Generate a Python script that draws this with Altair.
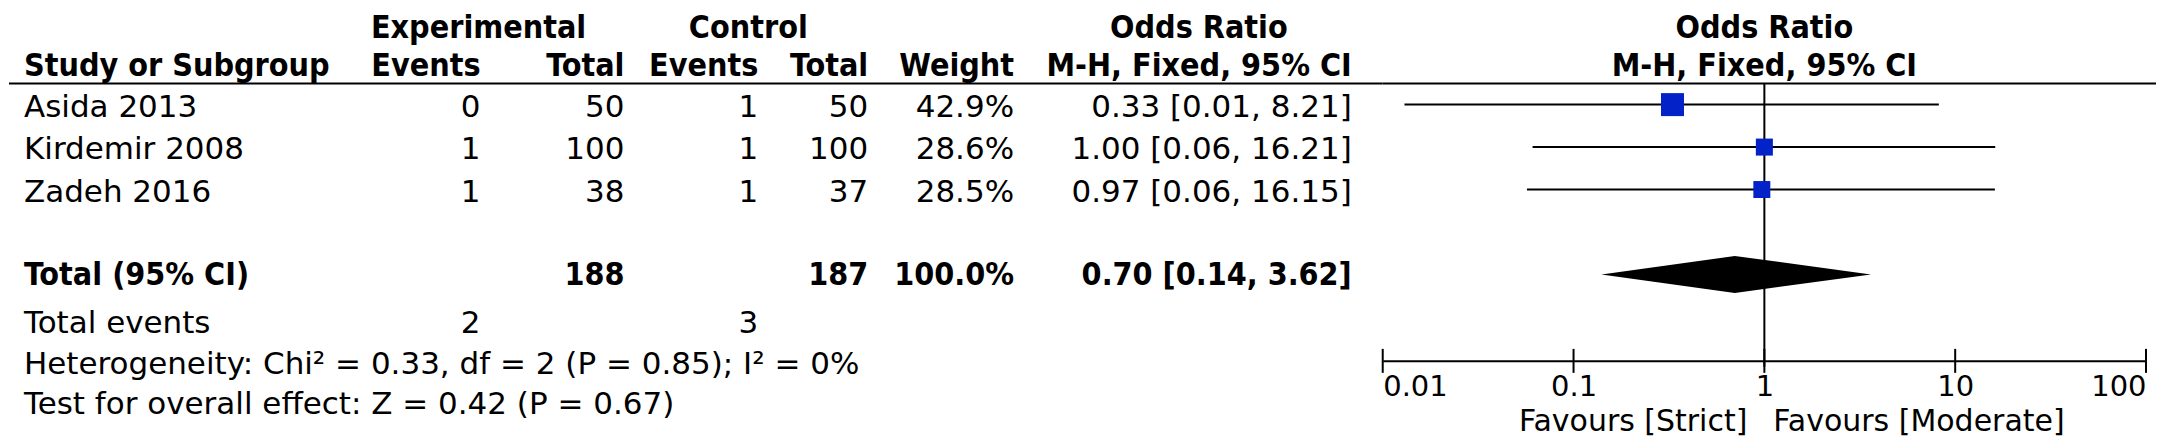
import altair as alt
import pandas as pd

# ---------------- data ----------------
studies = ["Asida 2013", "Kirdemir 2008", "Zadeh 2016"]
exp_events = [0, 1, 1]
exp_total = [50, 100, 38]
ctrl_events = [1, 1, 1]
ctrl_total = [50, 100, 37]
weights = [42.9, 28.6, 28.5]
odds_ratio = [0.33, 1.00, 0.97]
ci_low = [0.013, 0.061, 0.057]      # as drawn
ci_high = [8.21, 16.21, 16.15]
or_text = ["0.33 [0.01, 8.21]", "1.00 [0.06, 16.21]", "0.97 [0.06, 16.15]"]

total_label = "Total (95% CI)"
total_exp = 188
total_ctrl = 187
total_weight = "100.0%"
total_or = 0.70
total_low = 0.14
total_high = 3.62
total_or_text = "0.70 [0.14, 3.62]"

events_label = "Total events"
events_exp = 2
events_ctrl = 3
heterogeneity = "Heterogeneity: Chi² = 0.33, df = 2 (P = 0.85); I² = 0%"
overall_effect = "Test for overall effect: Z = 0.42 (P = 0.67)"

group_headers = ["Experimental", "Control", "Odds Ratio"]
col_headers = ["Study or Subgroup", "Events", "Total", "Events", "Total", "Weight", "M-H, Fixed, 95% CI"]
plot_headers = ["Odds Ratio", "M-H, Fixed, 95% CI"]
axis_ticks = [0.01, 0.1, 1, 10, 100]
null_value = 1
favours = ["Favours [Strict]", "Favours [Moderate]"]

# ---------------- layout ----------------
WL, WF = 1375, 764
ROW0, ROWH = 54.0, 42.5
H = 353
R_TOP = -ROW0 / ROWH
R_BOT = (H - ROW0) / ROWH
BLUE = "#0323C8"
REG_FONT = "DejaVu Sans"
BOLD_FONT = "DejaVu Sans Condensed"

yscale = alt.Scale(domain=[R_TOP, R_BOT], reverse=True, zero=False, nice=False)
xscale = alt.Scale(type="log", domain=[0.01, 100], nice=False)

COLS = {
    "name": (15, "left"), "ee": (472, "right"), "et": (616, "right"),
    "ce": (750, "right"), "ct": (860, "right"), "w": (1006, "right"),
    "or": (1344, "right"), "gexp": (470, "center"), "gctrl": (740, "center"),
    "gor": (1191, "center"),
}
STYLES = {
    "h1": dict(bold=True, dy=8),
    "h2": dict(bold=True, dy=4),
    "body": dict(bold=False, dy=3),
    "total": dict(bold=True, dy=1),
    "events": dict(bold=False, dy=7),
    "het": dict(bold=False, dy=6),
    "test": dict(bold=False, dy=3),
}

cells = []
def add(row, col, text, style):
    cells.append(dict(row=row, col=col, text=str(text), style=style))

for col, t in zip(["gexp", "gctrl", "gor"], group_headers):
    add(-1, col, t, "h1")
for col, t in zip(["name", "ee", "et", "ce", "ct", "w", "or"], col_headers):
    add(0, col, t, "h2")
for i in range(len(studies)):
    r = i + 1
    add(r, "name", studies[i], "body")
    add(r, "ee", exp_events[i], "body")
    add(r, "et", exp_total[i], "body")
    add(r, "ce", ctrl_events[i], "body")
    add(r, "ct", ctrl_total[i], "body")
    add(r, "w", f"{weights[i]:.1f}%", "body")
    add(r, "or", or_text[i], "body")
TOTAL_ROW = 5
add(TOTAL_ROW, "name", total_label, "total")
add(TOTAL_ROW, "et", total_exp, "total")
add(TOTAL_ROW, "ct", total_ctrl, "total")
add(TOTAL_ROW, "w", total_weight, "total")
add(TOTAL_ROW, "or", total_or_text, "total")
add(6, "name", events_label, "events")
add(6, "ee", events_exp, "events")
add(6, "ce", events_ctrl, "events")
add(7, "name", heterogeneity, "het")
add(8, "name", overall_effect, "test")
cells_df = pd.DataFrame(cells)


def text_props(style):
    s = STYLES[style]
    if s["bold"]:
        return dict(font=BOLD_FONT, fontSize=32, fontWeight="bold", dy=s["dy"])
    return dict(font=REG_FONT, fontSize=31, fontWeight="normal", dy=s["dy"])


dummy = pd.DataFrame({"k": [0]})
RULE_Y = ROW0 + 0.5 * ROWH

left_layers = [
    alt.Chart(dummy).mark_rule(color="black", strokeWidth=2).encode(
        x=alt.value(0), x2=alt.value(WL), y=alt.value(RULE_Y))
]
for (col, style), sub in cells_df.groupby(["col", "style"]):
    x, align = COLS[col]
    left_layers.append(
        alt.Chart(sub).mark_text(align=align, baseline="middle", color="black",
                                 **text_props(style)).encode(
            x=alt.value(x),
            y=alt.Y("row:Q", scale=yscale, axis=None),
            text="text:N",
        )
    )
left = alt.layer(*left_layers).properties(width=WL, height=H)

# ---------------- forest plot ----------------
xaxis = alt.Axis(values=axis_ticks, format="~g", labelFlush=True, ticks=False, tickSize=0,
                 domain=True, domainColor="black", domainWidth=2, labelFont=REG_FONT,
                 labelFontSize=29, labelColor="black", labelPadding=12, grid=False,
                 title=None, labelOverlap=False)

sdf = pd.DataFrame({"row": [1, 2, 3], "or": odds_ratio, "lo": ci_low, "hi": ci_high, "weight": weights})

rule_top = alt.Chart(dummy).mark_rule(color="black", strokeWidth=2).encode(
    x=alt.value(0), x2=alt.value(WF + 10), y=alt.value(RULE_Y))

vline = alt.Chart(pd.DataFrame({"x": [null_value]})).mark_rule(color="black", strokeWidth=2).encode(
    x=alt.X("x:Q", scale=xscale, axis=xaxis),
    y=alt.value(RULE_Y), y2=alt.value(H + 6))

ci = alt.Chart(sdf).mark_rule(color="black", strokeWidth=2).encode(
    x=alt.X("lo:Q", scale=xscale, axis=xaxis), x2="hi:Q",
    y=alt.Y("row:Q", scale=yscale, axis=None))

squares = alt.Chart(sdf).mark_square(color=BLUE, opacity=1, filled=True).encode(
    x=alt.X("or:Q", scale=xscale, axis=xaxis),
    y=alt.Y("row:Q", scale=yscale, axis=None),
    size=alt.Size("weight:Q", scale=alt.Scale(domain=[min(weights), max(weights)], range=[17 * 17, 23 * 23]),
                  legend=None))

HALF = 18.5 / ROWH
ddf = pd.DataFrame({"x": [total_low, total_or, total_high], "part": ["lo", "est", "hi"]})
diamond = alt.Chart(ddf).transform_calculate(
    yt=f"{TOTAL_ROW} - (datum.part == 'est' ? {HALF} : 0)",
    yb=f"{TOTAL_ROW} + (datum.part == 'est' ? {HALF} : 0)",
).mark_area(color="black", opacity=1, interpolate="linear").encode(
    x=alt.X("x:Q", scale=xscale, axis=xaxis),
    y=alt.Y("yt:Q", scale=yscale, axis=None), y2="yb:Q")

ticks = alt.Chart(pd.DataFrame({"t": axis_ticks})).mark_rule(color="black", strokeWidth=2).encode(
    x=alt.X("t:Q", scale=xscale, axis=xaxis), y=alt.value(H - 12), y2=alt.value(H + 12))

hdf = pd.DataFrame({"text": plot_headers, "row": [-1, 0], "x": [null_value, null_value]})
head1 = alt.Chart(hdf[hdf.row == -1]).mark_text(align="center", baseline="middle", color="black",
                                              **text_props("h1")).encode(
    x=alt.X("x:Q", scale=xscale, axis=xaxis), y=alt.Y("row:Q", scale=yscale, axis=None), text="text:N")
head2 = alt.Chart(hdf[hdf.row == 0]).mark_text(align="center", baseline="middle", color="black",
                                             **text_props("h2")).encode(
    x=alt.X("x:Q", scale=xscale, axis=xaxis), y=alt.Y("row:Q", scale=yscale, axis=None), text="text:N")

fav_l = alt.Chart(pd.DataFrame({"text": [favours[0]], "x": [null_value]})).mark_text(
    align="right", baseline="alphabetic", dx=-17, font=REG_FONT, fontSize=30, color="black").encode(
    x=alt.X("x:Q", scale=xscale, axis=xaxis), y=alt.value(H + 70), text="text:N")
fav_r = alt.Chart(pd.DataFrame({"text": [favours[1]], "x": [null_value]})).mark_text(
    align="left", baseline="alphabetic", dx=9, font=REG_FONT, fontSize=30, color="black").encode(
    x=alt.X("x:Q", scale=xscale, axis=xaxis), y=alt.value(H + 70), text="text:N")

right = alt.layer(rule_top, vline, ticks, ci, squares, diamond, head1, head2, fav_l, fav_r).properties(
    width=WF, height=H)

chart = alt.hconcat(left, right, spacing=0, bounds="flush").properties(
    padding=0, background="white"
).configure_view(strokeWidth=0, stroke="transparent")

chart.save("out.html", embed_options={"renderer": "svg", "actions": False})
